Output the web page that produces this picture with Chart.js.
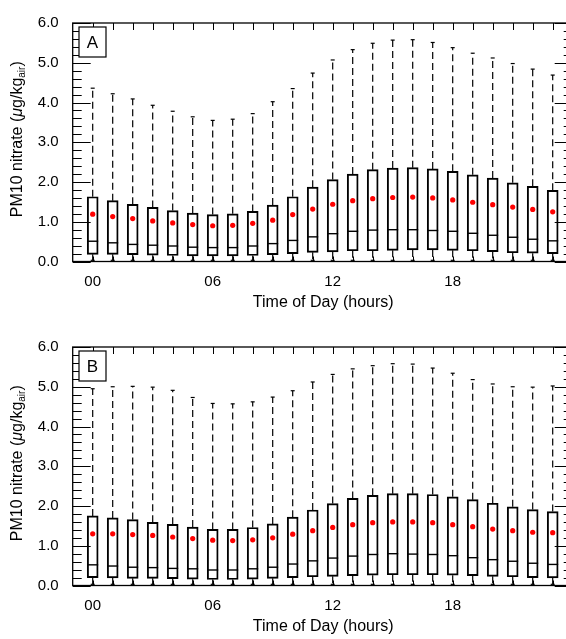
<!DOCTYPE html>
<html>
<head>
<meta charset="utf-8">
<script src="https://cdn.jsdelivr.net/npm/chart.js@4.4.1/dist/chart.umd.min.js"></script>
<style>
  html, body { margin: 0; padding: 0; background: #fff; overflow: hidden; }
  #wrap { position: relative; width: 566px; height: 639px; overflow: hidden; }
  canvas { position: absolute; left: 0; }
  #panelA { top: 0; }
  #panelB { top: 324px; }
</style>
</head>
<body>
<div id="wrap">
  <canvas id="panelA" width="580" height="324"></canvas>
  <canvas id="panelB" width="580" height="324"></canvas>
</div>
<script>
// hour of day for each box
const hours = [0, 1, 2, 3, 4, 5, 6, 7, 8, 9, 10, 11, 12, 13, 14, 15, 16, 17, 18, 19, 20, 21, 22, 23];
const xTickValues = [0, 6, 12, 18];
const xTickLabels = ['00', '06', '12', '18'];
const yTickValues = [0, 1, 2, 3, 4, 5, 6];

// lower whisker ends (same for both panels)
const whiskerLow = [0.03, 0.03, 0.03, 0.03, 0.03, 0.03, 0.03, 0.03, 0.03, 0.03, 0.03, 0.03,
                    0.03, 0.03, 0.03, 0.03, 0.03, 0.03, 0.03, 0.03, 0.03, 0.03, 0.03, 0.03];

// panel A
const aHigh = [4.36, 4.22, 4.09, 3.93, 3.78, 3.64, 3.55, 3.58, 3.72, 4.02, 4.35, 4.74,
               5.07, 5.33, 5.49, 5.57, 5.58, 5.51, 5.38, 5.24, 5.12, 4.98, 4.84, 4.69];
const aQ3 = [1.63, 1.53, 1.44, 1.36, 1.28, 1.22, 1.18, 1.20, 1.26, 1.42, 1.63, 1.87,
             2.06, 2.20, 2.31, 2.35, 2.36, 2.33, 2.27, 2.18, 2.10, 1.98, 1.89, 1.79];
const aMedian = [0.51, 0.47, 0.43, 0.41, 0.39, 0.36, 0.35, 0.35, 0.39, 0.45, 0.53, 0.62,
                 0.70, 0.76, 0.79, 0.80, 0.80, 0.78, 0.76, 0.71, 0.66, 0.61, 0.56, 0.52];
const aQ1 = [0.18, 0.18, 0.17, 0.16, 0.15, 0.14, 0.14, 0.14, 0.15, 0.17, 0.20, 0.23,
             0.24, 0.27, 0.27, 0.28, 0.29, 0.29, 0.28, 0.27, 0.25, 0.22, 0.21, 0.20];
const aMean = [1.19, 1.13, 1.08, 1.02, 0.97, 0.93, 0.90, 0.91, 0.96, 1.04, 1.18, 1.32,
               1.44, 1.53, 1.58, 1.61, 1.62, 1.60, 1.55, 1.49, 1.43, 1.37, 1.31, 1.25];

// panel B
const bHigh = [4.95, 5.00, 5.01, 4.99, 4.91, 4.73, 4.58, 4.57, 4.62, 4.74, 4.90, 5.12,
               5.31, 5.45, 5.53, 5.58, 5.57, 5.47, 5.34, 5.18, 5.07, 5.00, 4.99, 5.02];
const bQ3 = [1.75, 1.70, 1.66, 1.59, 1.54, 1.47, 1.41, 1.41, 1.46, 1.55, 1.72, 1.90,
             2.06, 2.19, 2.27, 2.31, 2.31, 2.29, 2.23, 2.16, 2.07, 1.98, 1.91, 1.86];
const bMedian = [0.52, 0.49, 0.46, 0.45, 0.43, 0.42, 0.39, 0.39, 0.42, 0.46, 0.54, 0.62,
                 0.69, 0.74, 0.78, 0.80, 0.79, 0.78, 0.75, 0.70, 0.65, 0.61, 0.56, 0.53];
const bQ1 = [0.20, 0.19, 0.18, 0.18, 0.17, 0.16, 0.15, 0.15, 0.16, 0.18, 0.20, 0.22,
             0.23, 0.25, 0.26, 0.27, 0.27, 0.27, 0.26, 0.25, 0.23, 0.22, 0.20, 0.19];
const bMean = [1.30, 1.30, 1.28, 1.26, 1.22, 1.18, 1.14, 1.13, 1.15, 1.20, 1.29, 1.38,
               1.46, 1.53, 1.58, 1.60, 1.60, 1.58, 1.53, 1.48, 1.42, 1.38, 1.34, 1.33];

const FONT = "'Liberation Sans', Arial, Helvetica, sans-serif";

// whiskers, medians, frame with inward ticks, panel letter and axis titles
const boxParts = {
  id: 'boxParts',
  beforeDatasetsDraw(chart, args, opts) {
    const ctx = chart.ctx;
    const x = chart.scales.x, y = chart.scales.y;
    ctx.save();
    ctx.strokeStyle = '#000';
    ctx.lineWidth = 1.2;
    hours.forEach((h, i) => {
      const px = x.getPixelForValue(h);
      // upper whisker (dashed)
      ctx.setLineDash([7, 4]);
      ctx.beginPath();
      ctx.moveTo(px, y.getPixelForValue(opts.q3[i]));
      ctx.lineTo(px, y.getPixelForValue(opts.high[i]));
      ctx.stroke();
      // lower whisker
      ctx.beginPath();
      ctx.moveTo(px, y.getPixelForValue(opts.q1[i]));
      ctx.lineTo(px, y.getPixelForValue(whiskerLow[i]));
      ctx.stroke();
      ctx.setLineDash([]);
      // caps
      [opts.high[i], whiskerLow[i]].forEach(v => {
        const py = y.getPixelForValue(v);
        ctx.beginPath();
        ctx.moveTo(px - 2, py);
        ctx.lineTo(px + 2, py);
        ctx.stroke();
      });
    });
    ctx.restore();
  },
  afterDatasetsDraw(chart, args, opts) {
    const ctx = chart.ctx;
    const x = chart.scales.x, y = chart.scales.y;
    const a = chart.chartArea;
    ctx.save();
    ctx.strokeStyle = '#000';

    // medians
    ctx.lineWidth = 1.4;
    hours.forEach((h, i) => {
      const px = x.getPixelForValue(h);
      const py = y.getPixelForValue(opts.median[i]);
      ctx.beginPath();
      ctx.moveTo(px - 5.5, py);
      ctx.lineTo(px + 5.5, py);
      ctx.stroke();
    });

    // frame
    ctx.lineWidth = 1.3;
    ctx.strokeRect(a.left, a.top, a.right - a.left, a.bottom - a.top);

    // y ticks, major every 1, minor every 0.2, both sides
    ctx.lineWidth = 1;
    for (let k = 0; k <= 30; k++) {
      const py = Math.round(y.getPixelForValue(k * 0.2)) + 0.5;
      const len = k % 5 === 0 ? 18 : 9;
      ctx.beginPath();
      ctx.moveTo(a.left, py);
      ctx.lineTo(a.left + len, py);
      ctx.moveTo(a.right, py);
      ctx.lineTo(a.right - len, py);
      ctx.stroke();
    }
    // x ticks at every hour, top and bottom
    hours.forEach(h => {
      const px = Math.round(x.getPixelForValue(h)) + 0.5;
      ctx.beginPath();
      ctx.moveTo(px, a.top);
      ctx.lineTo(px, a.top + 7);
      ctx.moveTo(px, a.bottom);
      ctx.lineTo(px, a.bottom - 5);
      ctx.stroke();
    });

    // panel letter
    ctx.lineWidth = 1.2;
    ctx.fillStyle = '#fff';
    ctx.fillRect(79, a.top + 4, 27, 30);
    ctx.strokeRect(79, a.top + 4, 27, 30);
    ctx.fillStyle = '#000';
    ctx.font = '17px ' + FONT;
    ctx.textAlign = 'center';
    ctx.textBaseline = 'middle';
    ctx.fillText(opts.letter, 92.5, a.top + 20);

    // x title
    ctx.font = '16px ' + FONT;
    ctx.fillText('Time of Day (hours)', (x.getPixelForValue(0) + x.getPixelForValue(23)) / 2 + 0.5, a.bottom + 41);

    // y title with subscript
    const parts = [
      { t: 'PM10 nitrate (', f: '16px ' + FONT, dy: 0 },
      { t: '\u03bc', f: 'italic 16px ' + FONT, dy: 0 },
      { t: 'g/kg', f: '16px ' + FONT, dy: 0 },
      { t: 'air', f: '10px ' + FONT, dy: 4 },
      { t: ')', f: '16px ' + FONT, dy: 0 }
    ];
    let total = 0;
    parts.forEach(p => { ctx.font = p.f; p.w = ctx.measureText(p.t).width; total += p.w; });
    ctx.translate(18, (a.top + a.bottom) / 2 - 3);
    ctx.rotate(-Math.PI / 2);
    ctx.textAlign = 'left';
    ctx.textBaseline = 'middle';
    let cx = -total / 2;
    parts.forEach(p => {
      ctx.font = p.f;
      ctx.fillText(p.t, cx, p.dy);
      cx += p.w;
    });
    ctx.restore();
  }
};

function makePanel(id, letter, high, q3, median, q1, mean) {
  const ctx = document.getElementById(id).getContext('2d');
  return new Chart(ctx, {
    type: 'bar',
    data: {
      datasets: [
        {
          type: 'bar',
          data: hours.map((h, i) => ({ x: h, y: [q1[i], q3[i]] })),
          backgroundColor: 'rgba(255,255,255,0)',
          borderColor: '#000',
          borderWidth: 1.3,
          borderSkipped: false,
          barThickness: 11
        },
        {
          type: 'scatter',
          data: hours.map((h, i) => ({ x: h, y: mean[i] })),
          pointRadius: 2.6,
          pointBackgroundColor: '#ff0000',
          pointBorderWidth: 0
        }
      ]
    },
    options: {
      responsive: false,
      animation: false,
      layout: { padding: { left: 0, right: 7.3, top: 12, bottom: 0 } },
      plugins: {
        legend: { display: false },
        tooltip: { enabled: false },
        boxParts: { letter: letter, high: high, q3: q3, median: median, q1: q1 }
      },
      scales: {
        x: {
          type: 'linear',
          min: -1,
          max: 24,
          offset: false,
          grid: { display: false, drawTicks: false, tickLength: 0 },
          border: { display: false },
          afterBuildTicks: s => { s.ticks = xTickValues.map(v => ({ value: v })); },
          afterFit: s => { s.height = 62.5; },
          ticks: {
            padding: 11,
            color: '#000',
            font: { family: FONT, size: 15 },
            maxRotation: 0,
            callback: v => xTickLabels[xTickValues.indexOf(v)]
          }
        },
        y: {
          type: 'linear',
          min: 0,
          max: 6,
          grid: { display: false, drawTicks: false, tickLength: 0 },
          border: { display: false },
          afterBuildTicks: s => { s.ticks = yTickValues.map(v => ({ value: v })); },
          afterFit: s => { s.width = 72.7; },
          ticks: {
            padding: 14,
            color: '#000',
            font: { family: FONT, size: 15 },
            callback: v => v.toFixed(1)
          }
        }
      }
    },
    plugins: [boxParts]
  });
}

makePanel('panelA', 'A', aHigh, aQ3, aMedian, aQ1, aMean);
makePanel('panelB', 'B', bHigh, bQ3, bMedian, bQ1, bMean);
</script>
</body>
</html>
